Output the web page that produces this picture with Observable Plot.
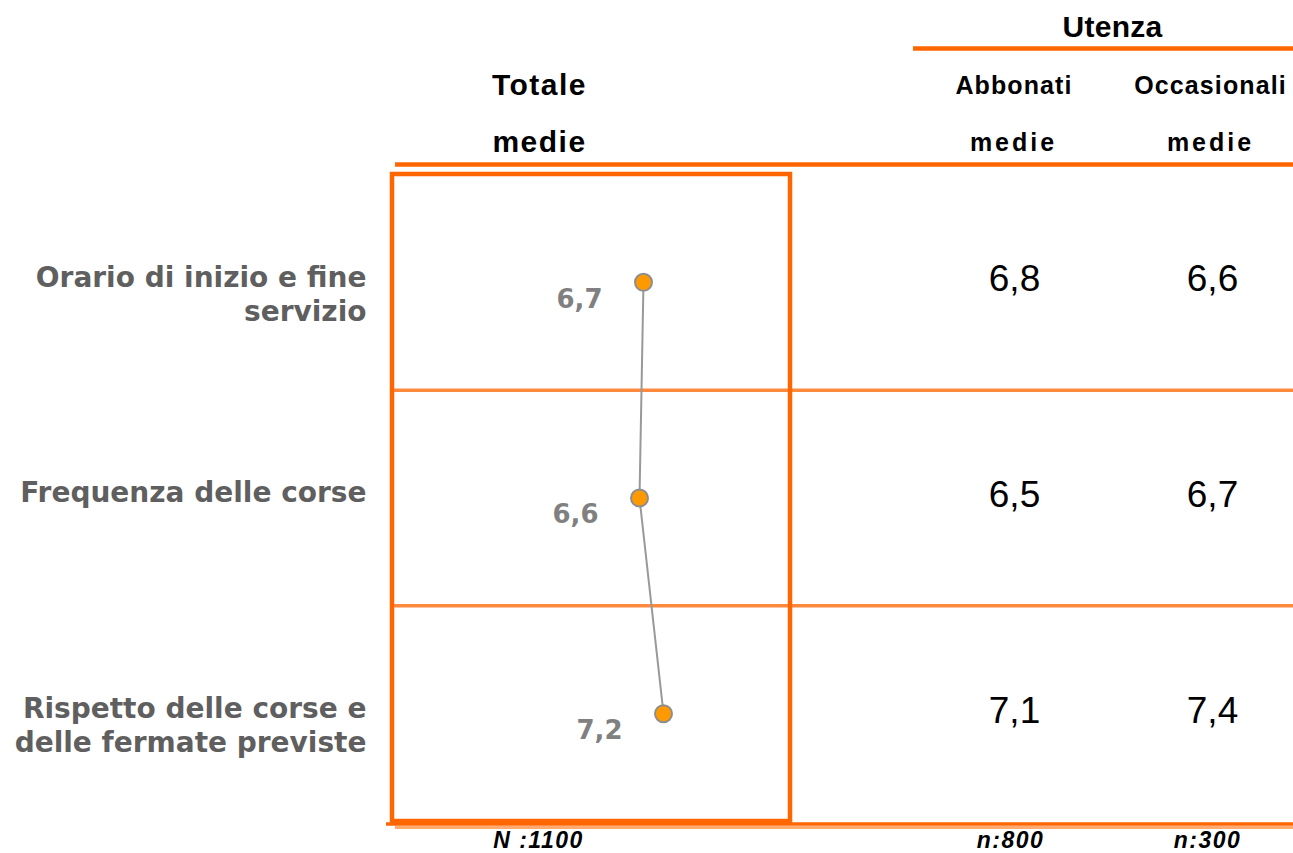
<!DOCTYPE html>
<html>
<head>
<meta charset="utf-8">
<script src="https://cdn.jsdelivr.net/npm/d3@7"></script>
<script src="https://cdn.jsdelivr.net/npm/@observablehq/plot@0.6"></script>
<style>
  html, body { margin: 0; padding: 0; background: #fff; }
  #chart svg { display: block; overflow: hidden; }
</style>
</head>
<body>
<div id="chart"></div>
<script>
// ---------- data ----------
const categories = [
  "Orario di inizio e fine\nservizio",
  "Frequenza delle corse",
  "Rispetto delle corse e\ndelle fermate previste"
];
const totale      = [6.7, 6.6, 7.2];
const abbonati    = [6.8, 6.5, 7.1];
const occasionali = [6.6, 6.7, 7.4];
const columnHeaders = ["Totale", "Abbonati", "Occasionali"];
const groupHeader = "Utenza";
const statLabel = "medie";
const sampleSizes = ["N :1100", "n:800", "n:300"];

// ---------- layout / style ----------
const W = 1293, H = 853;
const M = {top: 174, right: 0, bottom: 32, left: 392};
const boxRightPx = 790;
const boxDomain = [0.425, 10.375];           // score range spanned by the "Totale" box
const pxPerUnit = (boxRightPx - M.left) / (boxDomain[1] - boxDomain[0]);
const xDomain = [boxDomain[0], boxDomain[0] + (W - M.left) / pxPerUnit];
const px2x = p => boxDomain[0] + (p - M.left) / pxPerUnit;
const col = {totale: 539, abbonati: 1013, occasionali: 1210};

const ORANGE = "#FF6600";
const ORANGE_SOFT = "#FF8A3D";
const HEAD_FONT = "'Liberation Sans', Arial, sans-serif";
const LABEL_FONT = "'DejaVu Sans', Verdana, sans-serif";

const comma = v => d3.format(".1f")(v).replace(".", ",");

const rows = categories.map((c, i) => ({
  cat: c, row: i + 0.5,
  totale: totale[i], abbonati: abbonati[i], occasionali: occasionali[i]
}));

// a fixed-position label (header / footer chrome)
const chromeText = (txt, cx, cy, cls, opts) => Plot.text([txt], {
  text: d => d, frameAnchor: "top-left",
  dx: cx - M.left, dy: cy - M.top,
  textAnchor: "middle", lineAnchor: "middle",
  fontFamily: HEAD_FONT, fill: "#000", ariaLabel: () => cls, ...opts
});

const chart = Plot.plot({
  width: W, height: H,
  marginTop: M.top, marginRight: M.right, marginBottom: M.bottom, marginLeft: M.left,
  x: {type: "linear", domain: xDomain, axis: null},
  y: {type: "linear", domain: [0, 3], reverse: true, axis: null},
  style: {background: "#fff"},
  marks: [
    // header chrome
    chromeText(groupHeader, 1112, 27, "hdr-utenza", {fontSize: 30, fontWeight: "bold"}),
    Plot.ruleY([0], {x1: px2x(913), x2: xDomain[1], dy: -126, stroke: ORANGE, strokeWidth: 4.5}),
    chromeText(columnHeaders[0], col.totale, 85, "hdr-big", {fontSize: 30, fontWeight: "bold"}),
    chromeText(statLabel, col.totale, 142, "hdr-big", {fontSize: 30, fontWeight: "bold"}),
    chromeText(columnHeaders[1], col.abbonati + 0.5, 85, "hdr-small", {fontSize: 25, fontWeight: "bold"}),
    chromeText(columnHeaders[2], col.occasionali, 85, "hdr-small", {fontSize: 25, fontWeight: "bold"}),
    chromeText(statLabel, col.abbonati, 142, "hdr-medie", {fontSize: 25, fontWeight: "bold"}),
    chromeText(statLabel, col.occasionali, 142, "hdr-medie", {fontSize: 25, fontWeight: "bold"}),
    Plot.ruleY([0], {x1: px2x(395), x2: xDomain[1], dy: -10, stroke: ORANGE, strokeWidth: 4.5}),

    // row dividers
    Plot.ruleY([1, 2], {x1: xDomain[0], x2: xDomain[1], stroke: ORANGE_SOFT, strokeWidth: 3.5}),

    // bottom rules
    Plot.ruleY([3], {x1: px2x(395), x2: xDomain[1], dy: 6, stroke: "#FFAA70", strokeWidth: 3}),
    Plot.ruleY([3], {x1: px2x(386), x2: xDomain[1], dy: 2.5, stroke: ORANGE, strokeWidth: 3.5}),

    // Totale box
    Plot.rect([0], {x1: boxDomain[0], x2: boxDomain[1], y1: 0, y2: 3,
      fill: "none", stroke: ORANGE, strokeWidth: 4.5}),

    // category labels
    Plot.text(rows, {y: "row", text: "cat", frameAnchor: "left", dx: -26, dy: -20,
      textAnchor: "end", lineAnchor: "top", lineHeight: 1.22,
      fontFamily: LABEL_FONT, fontWeight: "bold", fontSize: 28, fill: "#5F5F5F"}),

    // Totale profile line + dots
    Plot.line(rows, {x: "totale", y: "row", stroke: "#999999", strokeWidth: 2}),
    Plot.dot(rows, {x: "totale", y: "row", r: 8.5, fill: "#FF9900",
      stroke: "#8E8E8E", strokeWidth: 2}),
    Plot.text(rows, {x: "totale", y: "row", text: d => comma(d.totale), dx: -64, dy: 17,
      fontFamily: LABEL_FONT, fontWeight: "bold", fontSize: 26, fill: "#808080"}),

    // Utenza columns
    Plot.text(rows, {y: "row", text: d => comma(d.abbonati), frameAnchor: "left",
      dx: col.abbonati + 1 - M.left, dy: -3, textAnchor: "middle",
      fontFamily: HEAD_FONT, fontSize: 37, fill: "#000"}),
    Plot.text(rows, {y: "row", text: d => comma(d.occasionali), frameAnchor: "left",
      dx: col.occasionali + 2 - M.left, dy: -3, textAnchor: "middle",
      fontFamily: HEAD_FONT, fontSize: 37, fill: "#000"}),

    // footer sample sizes
    chromeText(sampleSizes[0], 538, 840, "foot", {fontSize: 23, fontWeight: "bold", fontStyle: "italic"}),
    chromeText(sampleSizes[1], 1010, 840, "foot", {fontSize: 23, fontWeight: "bold", fontStyle: "italic"}),
    chromeText(sampleSizes[2], 1207, 840, "foot", {fontSize: 23, fontWeight: "bold", fontStyle: "italic"})
  ]
});

const sel = d3.select(chart);
sel.selectAll('text[aria-label="hdr-big"]').attr("letter-spacing", 1.5);
sel.selectAll('text[aria-label="hdr-utenza"]').attr("letter-spacing", 0.3);
sel.selectAll('text[aria-label="hdr-small"]').attr("letter-spacing", 1.1);
sel.selectAll('text[aria-label="hdr-medie"]').attr("letter-spacing", 3);
sel.selectAll('text[aria-label="foot"]').attr("letter-spacing", 1.5);

document.getElementById("chart").appendChild(chart);
</script>
</body>
</html>
